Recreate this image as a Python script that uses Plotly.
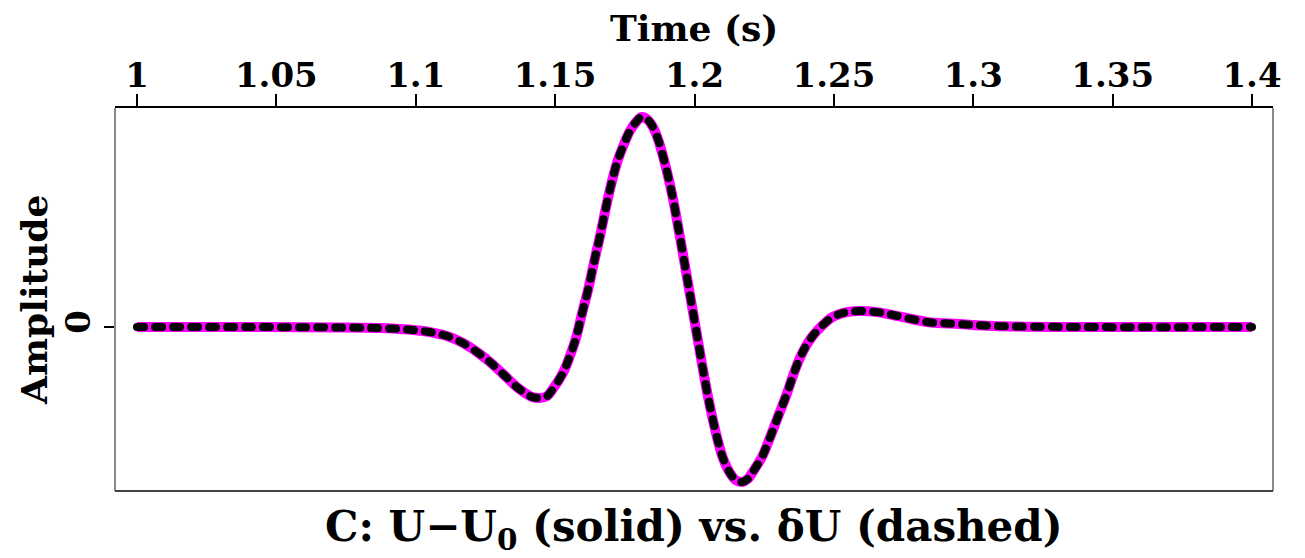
import plotly.graph_objects as go

# Time samples (s) and amplitude (normalised, peak = 1)
time_s = [1.0000, 1.0405, 1.0872, 1.0943, 1.0990, 1.1051, 1.1112, 1.1169, 1.1230,
          1.1266, 1.1313, 1.1363, 1.1392, 1.1417, 1.1445, 1.1471, 1.1492, 1.1528,
          1.1553, 1.1575, 1.1596, 1.1618, 1.1639, 1.1661, 1.1682, 1.1704, 1.1725,
          1.1747, 1.1768, 1.1790, 1.1811, 1.1833, 1.1851, 1.1869, 1.1887, 1.1905,
          1.1923, 1.1940, 1.1958, 1.1976, 1.1994, 1.2012, 1.2030, 1.2048, 1.2066,
          1.2084, 1.2102, 1.2127, 1.2148, 1.2170, 1.2191, 1.2209, 1.2242, 1.2270,
          1.2299, 1.2331, 1.2353, 1.2378, 1.2400, 1.2421, 1.2439, 1.2468, 1.2496,
          1.2521, 1.2547, 1.2593, 1.2654, 1.2712, 1.2834, 1.2952, 1.3070, 1.3382,
          1.4000]
amp_solid = [0.0, 0.0, -0.005, -0.010, -0.014, -0.024, -0.043, -0.076, -0.129,
             -0.167, -0.224, -0.286, -0.314, -0.333, -0.338, -0.329, -0.295, -0.219,
             -0.138, -0.052, 0.062, 0.176, 0.305, 0.433, 0.567, 0.695, 0.795,
             0.871, 0.933, 0.976, 1.000, 0.986, 0.952, 0.895, 0.814, 0.719,
             0.610, 0.486, 0.352, 0.214, 0.076, -0.062, -0.200, -0.329, -0.443,
             -0.543, -0.624, -0.695, -0.729, -0.738, -0.724, -0.690, -0.619, -0.529,
             -0.429, -0.319, -0.233, -0.148, -0.090, -0.048, -0.019, 0.019, 0.048,
             0.062, 0.071, 0.076, 0.071, 0.057, 0.024, 0.014, 0.005, 0.0,
             0.0]
amp_dashed = list(amp_solid)

x_tickvals = [1.0, 1.05, 1.1, 1.15, 1.2, 1.25, 1.3, 1.35, 1.4]
x_ticktext = ["1", "1.05", "1.1", "1.15", "1.2", "1.25", "1.3", "1.35", "1.4"]
y_tickvals = [0]
y_ticktext = ["0"]

FONT = "DejaVu Serif"

fig = go.Figure()
fig.add_trace(go.Scatter(x=time_s, y=amp_solid, mode="lines", line_shape="spline",
                         line=dict(color="#ff00ff", width=10), hoverinfo="skip",
                         showlegend=False))
fig.add_trace(go.Scatter(x=time_s, y=amp_dashed, mode="lines", line_shape="spline",
                         line=dict(color="black", width=8, dash="7px,11px"),
                         hoverinfo="skip", showlegend=False))

fig.update_layout(
    width=1305, height=558,
    margin=dict(l=115, r=32, t=108, b=67),
    paper_bgcolor="white", plot_bgcolor="white",
    font=dict(family=FONT, size=34, color="black", weight="bold"),
    xaxis=dict(side="top", range=[0.99211, 1.40753], tickmode="array",
               tickvals=x_tickvals, ticktext=x_ticktext,
               ticks="outside", ticklen=12, tickwidth=2, tickcolor="black",
               ticklabelstandoff=-7,
               showline=True, linecolor="black", linewidth=2, mirror=False,
               showgrid=False, zeroline=False,
               tickfont=dict(family=FONT, size=34, color="black", weight="bold")),
    yaxis=dict(range=[-0.781, 1.043], tickmode="array",
               tickvals=y_tickvals, ticktext=y_ticktext, tickangle=-90,
               ticks="outside", ticklen=10, tickwidth=2, tickcolor="black",
               showline=False, showgrid=False, zeroline=False,
               tickfont=dict(family=FONT, size=34, color="black", weight="bold")),
    shapes=[
        dict(type="line", xref="paper", yref="paper", x0=0, x1=0, y0=0, y1=1,
             line=dict(color="#8a8a8a", width=2)),
        dict(type="line", xref="paper", yref="paper", x0=1, x1=1, y0=0, y1=1,
             line=dict(color="#8a8a8a", width=2)),
        dict(type="line", xref="paper", yref="paper", x0=0, x1=1, y0=0, y1=0,
             line=dict(color="#444444", width=2)),
    ],
    annotations=[
        dict(text="Time (s)", xref="paper", yref="paper", x=0.5, y=1.209,
             xanchor="center", yanchor="middle", showarrow=False,
             font=dict(family=FONT, size=36, color="black", weight="bold")),
        dict(text="Amplitude", xref="paper", yref="paper", x=-0.0704, y=0.5,
             xanchor="center", yanchor="middle", textangle=-90, showarrow=False,
             font=dict(family=FONT, size=36, color="black", weight="bold")),
        dict(text="C: U\u2212U<sub>0</sub> (solid) vs. \u03b4U (dashed)",
             xref="paper", yref="paper", x=0.5, y=-0.1,
             xanchor="center", yanchor="middle", showarrow=False,
             font=dict(family=FONT, size=42, color="black", weight="bold")),
    ],
)

post = ("document.body.style.margin='0';"
        "var tr=document.querySelectorAll('.scatterlayer .trace');"
        "if(tr.length>1){tr[1].querySelectorAll('path.js-line').forEach("
        "function(p){p.style.strokeLinecap='round';});}")

fig.write_html("out.html", post_script=post, config={"displayModeBar": False})
